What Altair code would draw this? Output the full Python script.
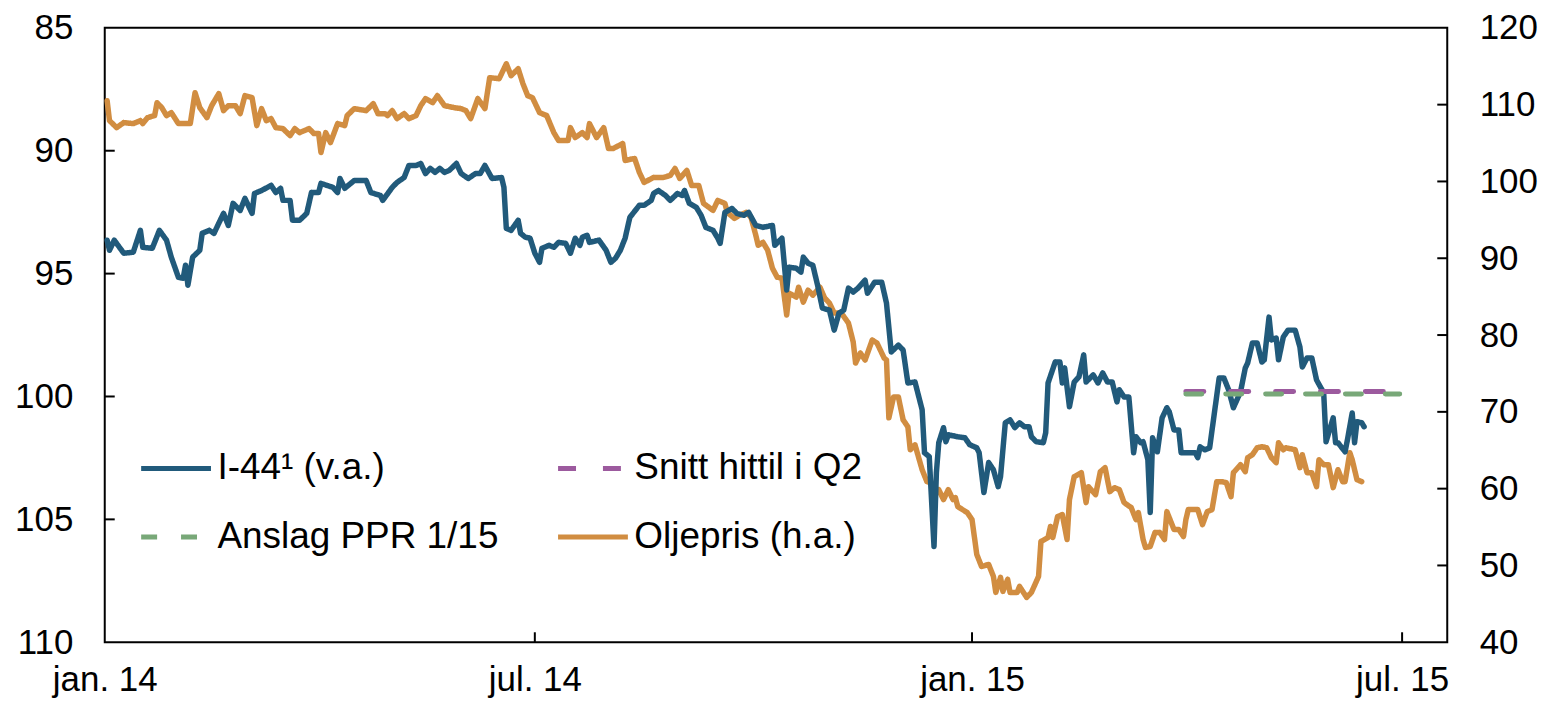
import altair as alt
import pandas as pd

BASE = "2014-01-01"

# I-44 (left axis, reversed) — day offsets from 1 Jan 2014 and index values
i44_day = [1, 2, 4, 8, 12, 15, 16, 20, 23, 26, 28, 31, 33, 34, 35, 37, 40, 41, 44, 46, 48, 50, 52, 54, 57, 59, 62, 63, 66, 70,
           72, 74, 75, 78, 79, 82, 85, 87, 90, 91, 96, 98, 99, 101, 105, 110, 112, 116, 117, 121, 123, 126, 128, 131, 133, 135,
           137, 139, 141, 143, 145, 148, 150, 153, 156, 158, 160, 163, 167, 168, 169, 171, 174, 175, 177, 179, 181, 183, 184,
           187, 189, 191, 194, 196, 198, 200, 201, 203, 204, 208, 211, 213, 215, 217, 219, 221, 225, 227, 230, 231, 233, 236,
           238, 241, 243, 244, 246, 249, 251, 253, 256, 258, 259, 261, 264, 266, 269, 271, 274, 277, 281, 282, 285, 287, 288,
           291, 293, 294, 296, 298, 300, 302, 305, 307, 309, 311, 313, 315, 317, 320, 321, 324, 327, 329, 331, 334, 336, 338,
           341, 344, 345, 347, 349, 350, 351, 353, 354, 355, 359, 362, 364, 367, 368, 370, 372, 374, 376, 377, 379, 381, 383,
           385, 387, 389, 390, 392, 395, 396, 397, 400, 402, 403, 404, 406, 408, 410, 412, 413, 416, 418, 420, 422, 424, 426,
           427, 429, 431, 433, 434, 436, 437, 439, 440, 441, 443, 445, 447, 448, 450, 452, 453, 456, 459, 460, 461, 463, 465,
           467, 469, 471, 473, 475, 478, 480, 481, 483, 485, 487, 488, 490, 491, 493, 494, 496, 498, 501, 503, 504, 506, 508,
           510, 513, 514, 517, 518, 519, 522, 523, 525, 526, 527, 529, 530]
i44_val = [93.64, 94.05, 93.64, 94.17, 94.13, 93.24, 93.93, 93.97, 93.24, 93.64, 94.33, 95.15, 95.19, 94.66, 95.47, 94.33,
           94.05, 93.36, 93.24, 93.36, 92.95, 92.55, 93.04, 92.14, 92.43, 91.94, 92.55, 91.74, 91.62, 91.41, 91.70, 91.53,
           92.02, 92.02, 92.83, 92.83, 92.55, 91.70, 91.70, 91.33, 91.49, 91.70, 91.13, 91.53, 91.21, 91.21, 91.70, 91.82,
           92.02, 91.49, 91.29, 91.09, 90.60, 90.60, 90.52, 90.93, 90.72, 90.88, 90.72, 90.88, 90.80, 90.52, 90.93, 91.13,
           90.93, 90.93, 90.60, 91.13, 91.09, 91.49, 93.16, 93.24, 92.83, 93.36, 93.52, 93.56, 94.17, 94.54, 93.97, 93.85,
           93.93, 93.73, 93.77, 94.17, 93.56, 93.85, 93.52, 93.44, 93.73, 93.64, 94.05, 94.54, 94.37, 94.05, 93.56, 92.71,
           92.22, 92.22, 92.02, 91.74, 91.62, 91.82, 92.02, 91.74, 91.82, 91.62, 92.14, 92.31, 92.63, 93.12, 93.24, 93.56,
           93.77, 92.51, 92.35, 92.55, 92.63, 92.51, 93.04, 93.12, 93.04, 93.85, 93.56, 95.67, 94.74, 94.78, 94.94, 94.33,
           94.58, 94.66, 95.47, 96.40, 96.49, 97.30, 96.61, 96.49, 95.59, 95.75, 95.59, 95.27, 95.80, 95.35, 95.35, 96.20,
           98.19, 97.91, 98.11, 99.45, 99.41, 100.54, 102.29, 102.45, 106.10, 103.10, 101.88, 101.27, 101.84, 101.56, 101.64,
           101.68, 101.96, 102.09, 102.29, 103.91, 102.69, 102.98, 103.67, 103.26, 101.07, 100.95, 101.27, 101.07, 101.23,
           101.23, 101.64, 101.84, 101.88, 101.48, 99.45, 98.60, 98.60, 99.45, 98.84, 100.42, 99.41, 99.20, 98.31, 99.41,
           99.12, 99.45, 99.04, 99.41, 99.41, 100.22, 99.73, 100.02, 100.02, 102.29, 101.64, 101.88, 101.84, 102.57, 104.72,
           101.68, 102.25, 100.87, 100.46, 100.62, 101.36, 101.36, 102.29, 102.29, 102.29, 102.49, 102.05, 102.17, 102.09,
           100.67, 99.25, 99.25, 99.73, 100.46, 99.81, 98.84, 98.64, 97.82, 97.82, 98.60, 98.51, 96.77, 97.70, 97.62, 98.51,
           97.58, 97.30, 97.30, 97.99, 98.80, 98.43, 98.43, 99.33, 99.85, 101.84, 100.87, 101.88, 101.88, 102.25, 101.76,
           100.67, 101.88, 101.03, 101.07, 101.23]

# Oil price (right axis)
oil_day = [1, 2, 5, 8, 12, 15, 16, 18, 21, 22, 24, 26, 28, 31, 36, 38, 40, 43, 45, 48, 50, 52, 55, 57, 59, 62, 64, 66, 68, 70,
           72, 75, 78, 80, 82, 86, 88, 90, 91, 93, 95, 98, 101, 102, 105, 110, 113, 115, 118, 119, 121, 123, 126, 128, 131, 133,
           135, 138, 140, 143, 147, 150, 152, 154, 157, 160, 162, 166, 169, 171, 174, 176, 178, 180, 183, 186, 189, 191, 195,
           196, 198, 201, 203, 204, 207, 210, 212, 214, 218, 219, 223, 225, 227, 231, 235, 238, 240, 242, 245, 247, 250, 252,
           256, 258, 261, 262, 265, 267, 270, 272, 274, 275, 277, 279, 281, 283, 285, 287, 288, 291, 292, 294, 296, 298, 301,
           303, 305, 307, 310, 313, 315, 316, 318, 320, 323, 325, 328, 329, 330, 332, 334, 336, 338, 339, 341, 344, 346, 348,
           349, 351, 353, 355, 357, 358, 359, 363, 365, 367, 369, 372, 374, 375, 377, 378, 380, 381, 384, 385, 388, 390, 393,
           394, 397, 398, 399, 401, 403, 405, 406, 408, 411, 413, 414, 417, 419, 421, 423, 425, 427, 429, 432, 434, 435, 437,
           438, 440, 442, 444, 446, 447, 450, 452, 454, 455, 456, 460, 462, 464, 466, 468, 470, 472, 474, 475, 478, 480, 481,
           483, 485, 487, 489, 491, 493, 494, 496, 497, 501, 503, 504, 506, 508, 510, 511, 513, 515, 517, 519, 521, 522, 524,
           525, 527, 529]
oil_val = [110.52, 107.92, 107.01, 107.66, 107.53, 107.92, 107.53, 108.31, 108.57, 110.26, 109.61, 108.57, 108.96, 107.53,
           107.53, 111.56, 109.61, 108.31, 109.87, 111.43, 109.22, 109.87, 109.87, 108.83, 111.17, 110.91, 107.27, 109.48,
           107.92, 108.18, 107.01, 106.88, 105.97, 106.88, 106.36, 106.88, 106.23, 106.23, 103.77, 106.36, 105.06, 107.53,
           107.27, 108.57, 109.48, 109.22, 110.13, 108.83, 108.83, 108.57, 109.22, 108.18, 108.83, 108.18, 108.57, 109.87,
           110.78, 110.26, 111.17, 109.87, 109.61, 109.48, 109.22, 108.18, 110.78, 109.48, 113.51, 113.38, 115.32, 113.77,
           114.68, 112.73, 111.17, 110.91, 108.96, 108.57, 106.36, 105.32, 105.32, 107.01, 105.71, 106.36, 105.71, 107.53,
           105.71, 107.01, 104.29, 104.29, 104.94, 102.73, 102.99, 101.17, 99.87, 100.52, 100.52, 100.78, 101.69, 100.39,
           101.43, 99.48, 99.48, 97.14, 96.23, 97.53, 97.14, 95.97, 95.19, 95.58, 95.97, 95.32, 92.99, 91.69, 92.08, 91.04,
           88.70, 87.53, 87.40, 82.60, 85.45, 84.94, 86.23, 84.29, 85.84, 85.19, 86.23, 84.81, 84.16, 82.86, 82.86, 81.56,
           79.09, 76.36, 77.66, 76.75, 79.35, 78.96, 77.01, 76.75, 69.22, 71.95, 71.95, 68.96, 68.05, 65.06, 65.71, 62.47,
           60.91, 60.78, 58.96, 59.87, 58.57, 59.87, 58.57, 58.83, 57.66, 56.88, 55.97, 51.43, 49.87, 50.13, 48.57, 46.49,
           48.44, 46.62, 48.18, 46.49, 46.49, 47.27, 45.84, 46.49, 48.57, 53.12, 53.64, 55.06, 53.64, 56.36, 56.62, 53.38,
           58.57, 61.56, 62.08, 58.18, 60.26, 59.22, 62.21, 62.73, 59.61, 60.13, 59.87, 58.18, 57.53, 55.97, 56.88, 53.38,
           52.34, 52.47, 54.29, 54.29, 53.38, 57.01, 54.68, 54.68, 53.77, 55.97, 57.27, 57.27, 55.32, 57.01, 57.27, 60.91,
           60.91, 60.78, 58.96, 62.08, 63.12, 62.21, 64.03, 64.42, 65.32, 65.45, 65.32, 64.03, 63.38, 65.97, 65.06, 65.32,
           65.06, 62.73, 64.42, 62.08, 62.08, 60.26, 63.77, 63.12, 63.12, 60.13, 62.47, 60.91, 60.91, 64.68, 63.77, 61.17,
           60.91]

q2_dates = ["2015-04-01T00:00:00", "2015-06-30T00:00:00"]
q2_avg = [99.8, 99.8]
ppr_dates = ["2015-04-01T00:00:00", "2015-06-30T00:00:00"]
ppr_val = [99.9, 99.9]

series_names = ["I-44\u00b9 (v.a.)", "Snitt hittil i Q2", "Anslag PPR 1/15", "Oljepris (h.a.)"]
series_colors = ["#215A7B", "#9C5A9E", "#78A878", "#D18D41"]
series_dash = [[1, 0], [18, 27], [16, 24], [1, 0]]

left_ticks = [90, 95, 100, 105]
left_labels = [85, 90, 95, 100, 105, 110]
right_ticks = [50, 60, 70, 80, 90, 100, 110]
right_labels = [40, 50, 60, 70, 80, 90, 100, 110, 120]
x_tick_dates = ["2014-07-01T00:00:00", "2015-01-01T00:00:00", "2015-07-01T00:00:00"]

W, H = 1346, 616
TICK = 10
FONT = "Liberation Sans"


def to_dates(days):
    return (pd.Timestamp(BASE) + pd.to_timedelta(days, unit="D")).strftime("%Y-%m-%dT00:00:00").tolist()


i44_df = pd.DataFrame({"date": to_dates(i44_day), "value": i44_val, "series": series_names[0]})
oil_df = pd.DataFrame({"date": to_dates(oil_day), "value": oil_val, "series": series_names[3]})
dash_df = pd.concat([
    pd.DataFrame({"date": q2_dates, "value": q2_avg, "series": series_names[1]}),
    pd.DataFrame({"date": ppr_dates, "value": ppr_val, "series": series_names[2]}),
])

x_scale = alt.Scale(domain=[alt.DateTime(year=2014, month=1, date=1), alt.DateTime(year=2015, month=7, date=20)], nice=False)
left_scale = alt.Scale(domain=[85, 110], reverse=True, nice=False, zero=False)
right_scale = alt.Scale(domain=[40, 120], nice=False, zero=False)
color_scale = alt.Scale(domain=series_names, range=series_colors)
dash_scale = alt.Scale(domain=series_names, range=series_dash)

legend = alt.Legend(
    title=None, orient="none", legendX=34, legendY=404, columns=2, direction="horizontal",
    symbolType="stroke", symbolSize=4900, symbolStrokeWidth=5,
    labelFont=FONT, labelFontSize=37, labelColor="black", labelLimit=500, labelOffset=4,
    rowPadding=13, columnPadding=49, padding=0,
)

x_axis = alt.Axis(
    values=[alt.DateTime(year=2014, month=1, date=1), alt.DateTime(year=2014, month=7, date=1),
            alt.DateTime(year=2015, month=1, date=1), alt.DateTime(year=2015, month=7, date=1)],
    labelExpr="lower(timeFormat(datum.value, '%b')) + '. ' + timeFormat(datum.value, '%y')",
    title=None, labelFlush=False, labelOverlap=False, labelPadding=20, labelFontSize=35,
    labelFont=FONT, labelColor="black", grid=False, domain=False, ticks=False,
)
left_axis = alt.Axis(orient="left", values=left_labels, title=None, labelPadding=32, labelFontSize=35,
                     labelFont=FONT, labelColor="black", grid=False, domain=False, ticks=False)
right_axis = alt.Axis(orient="right", values=right_labels, title=None, labelPadding=32, labelFontSize=35,
                      labelFont=FONT, labelColor="black", grid=False, domain=False, ticks=False)

color_enc = alt.Color("series:N", scale=color_scale, legend=legend)
dash_enc = alt.StrokeDash("series:N", scale=dash_scale, legend=legend)

blue_line = alt.Chart(i44_df).mark_line(strokeWidth=5.5, strokeJoin="round", strokeCap="round").encode(
    x=alt.X("date:T", scale=x_scale, axis=x_axis),
    y=alt.Y("value:Q", scale=left_scale, axis=left_axis),
    color=color_enc, strokeDash=dash_enc,
)
dash_lines = alt.Chart(dash_df).mark_line(strokeWidth=5, strokeCap="round").encode(
    x=alt.X("date:T", scale=x_scale, axis=x_axis),
    y=alt.Y("value:Q", scale=left_scale, axis=left_axis),
    color=color_enc, strokeDash=dash_enc,
)
left_tick_rules = alt.Chart(pd.DataFrame({"value": left_ticks})).mark_rule(color="black", strokeWidth=2).encode(
    y=alt.Y("value:Q", scale=left_scale, axis=left_axis), x=alt.value(0), x2=alt.value(TICK))
x_tick_rules = alt.Chart(pd.DataFrame({"date": x_tick_dates})).mark_rule(color="black", strokeWidth=2).encode(
    x=alt.X("date:T", scale=x_scale, axis=x_axis), y=alt.value(H - TICK), y2=alt.value(H))

left = alt.layer(blue_line, dash_lines, left_tick_rules, x_tick_rules)

oil_line = alt.Chart(oil_df).mark_line(strokeWidth=5.5, strokeJoin="round", strokeCap="round").encode(
    x=alt.X("date:T", scale=x_scale, axis=x_axis),
    y=alt.Y("value:Q", scale=right_scale, axis=right_axis),
    color=color_enc, strokeDash=dash_enc,
)
right_tick_rules = alt.Chart(pd.DataFrame({"value": right_ticks})).mark_rule(color="black", strokeWidth=2).encode(
    y=alt.Y("value:Q", scale=right_scale, axis=right_axis), x=alt.value(W - TICK), x2=alt.value(W))

right = alt.layer(oil_line, right_tick_rules)

chart = alt.layer(right, left).resolve_scale(y="independent").properties(
    width=W, height=H,
    padding={"left": 97, "top": 19, "right": 95, "bottom": 55},
    autosize=alt.AutoSizeParams(type="none"),
    background="white",
).configure_view(stroke="black", strokeWidth=2)

chart.save("out.html", embed_options={"renderer": "svg", "actions": False})
